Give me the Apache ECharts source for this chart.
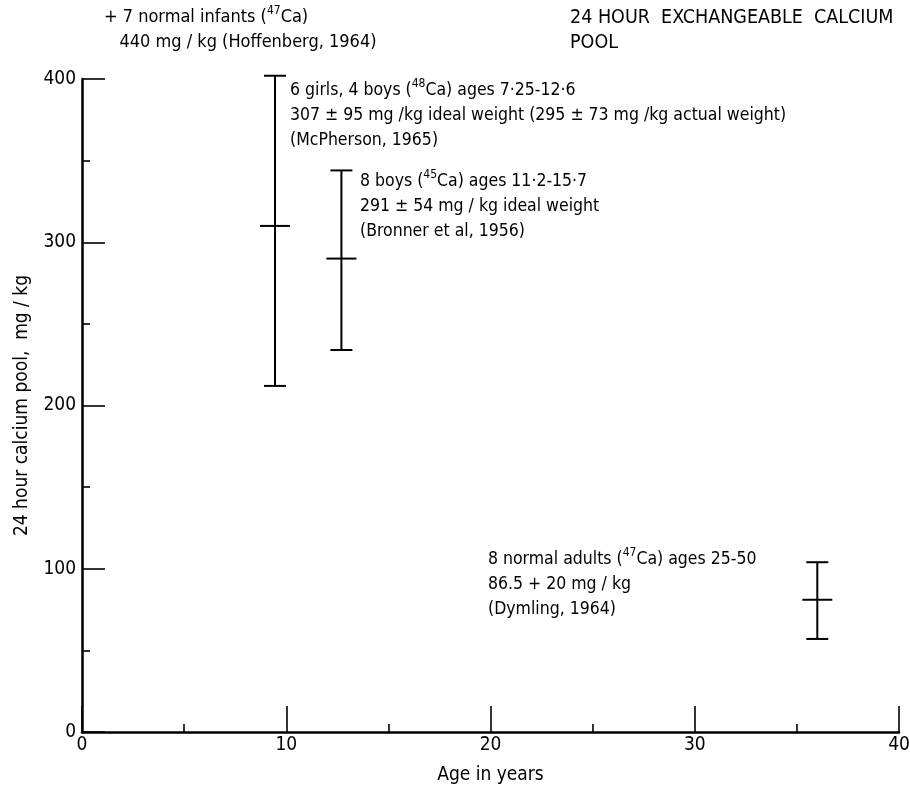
<!DOCTYPE html>
<html>
<head>
<meta charset="utf-8">
<script src="https://cdn.jsdelivr.net/npm/echarts@6/dist/echarts.min.js"></script>
<style>
html,body{margin:0;padding:0;background:#fff;}
#chart{width:910px;height:785px;}
</style>
</head>
<body>
<div id="chart"></div>
<script>
// ---- data ----
const studies = ['McPherson, 1965', 'Bronner et al, 1956', 'Dymling, 1964'];
const ages = [9.45, 12.7, 36];        // x position (years)
const means = [310, 290, 81];          // drawn centre (mg/kg)
const lows = [212, 234, 57];           // lower end of bar
const highs = [402, 344, 104];         // upper end of bar
const xTicks = [0, 10, 20, 30, 40];
const yTicks = [0, 100, 200, 300, 400];

const FONT = "'DejaVu Sans Condensed', 'Liberation Sans Narrow', 'DejaVu Sans', sans-serif";

const data = ages.map((a, i) => [a, means[i], lows[i], highs[i]]);

const chart = echarts.init(document.getElementById('chart'), null, {renderer: 'canvas'});

function renderItem(params, api) {
  const x = api.value(0);
  const c = api.coord([x, api.value(1)]);
  const lo = api.coord([x, api.value(2)]);
  const hi = api.coord([x, api.value(3)]);
  const capW = 11, midW = 15;
  const st = {stroke: '#000', lineWidth: 2};
  return {
    type: 'group',
    children: [
      {type: 'line', shape: {x1: lo[0], y1: lo[1], x2: hi[0], y2: hi[1]}, style: st},
      {type: 'line', shape: {x1: hi[0] - capW, y1: hi[1], x2: hi[0] + capW, y2: hi[1]}, style: st},
      {type: 'line', shape: {x1: lo[0] - capW, y1: lo[1], x2: lo[0] + capW, y2: lo[1]}, style: st},
      {type: 'line', shape: {x1: c[0] - midW, y1: c[1], x2: c[0] + midW, y2: c[1]}, style: st}
    ]
  };
}

function makeRich(size) {
  return {
    n: {fontFamily: FONT, fontSize: size, lineHeight: 25, fill: '#000'},
    s: {fontFamily: FONT, fontSize: Math.round(size * 0.68), lineHeight: 25, verticalAlign: 'top', fill: '#000'}
  };
}
function txt(left, top, text, size) {
  return {
    type: 'text', left: left, top: top,
    style: {text: text, rich: makeRich(size), fontFamily: FONT, fontSize: size, lineHeight: 25, fill: '#000'}
  };
}

const option = {
  backgroundColor: '#fff',
  animation: false,
  grid: {left: 82, right: 11, top: 79, bottom: 53, containLabel: false, outerBoundsMode: 'none'},
  xAxis: {
    type: 'value', min: 0, max: 40, interval: 10,
    name: 'Age in years', nameLocation: 'middle', nameGap: 34,
    nameTextStyle: {fontFamily: FONT, fontSize: 19, color: '#000'},
    axisLine: {show: true, lineStyle: {color: '#000', width: 2.5}},
    axisTick: {show: true, inside: true, length: 26, lineStyle: {color: '#000', width: 1.6}},
    minorTick: {show: true, splitNumber: 2, length: 8, lineStyle: {color: '#000', width: 1.6}},
    axisLabel: {fontFamily: FONT, fontSize: 19, color: '#000', margin: 4,
      formatter: v => xTicks.includes(v) ? String(v) : ''},
    splitLine: {show: false}
  },
  yAxis: {
    type: 'value', min: 0, max: 400, interval: 100,
    name: '24 hour calcium pool,  mg / kg', nameLocation: 'middle', nameGap: 50,
    nameTextStyle: {fontFamily: FONT, fontSize: 19, color: '#000'},
    axisLine: {show: true, lineStyle: {color: '#000', width: 2.5}},
    axisTick: {show: true, inside: true, length: 23, lineStyle: {color: '#000', width: 1.6}},
    minorTick: {show: true, splitNumber: 2, length: 8, lineStyle: {color: '#000', width: 1.6}},
    axisLabel: {fontFamily: FONT, fontSize: 19, color: '#000', margin: 6,
      formatter: v => yTicks.includes(v) ? String(v) : ''},
    splitLine: {show: false}
  },
  series: [{
    type: 'custom',
    name: 'calcium pool',
    renderItem: renderItem,
    encode: {x: 0, y: [1, 2, 3]},
    data: data,
    clip: false
  }],
  graphic: [
    txt(104, 5, '{n|+ 7 normal infants (}{s|47}{n|Ca)}\n{n|   440 mg / kg (Hoffenberg, 1964)}', 18),
    txt(570, 5, '{n|24 HOUR  EXCHANGEABLE  CALCIUM}\n{n|POOL}', 19.5),
    txt(290, 78, '{n|6 girls, 4 boys (}{s|48}{n|Ca) ages 7·25-12·6}\n{n|307 ± 95 mg /kg ideal weight (295 ± 73 mg /kg actual weight)}\n{n|(McPherson, 1965)}', 17.5),
    txt(360, 169, '{n|8 boys (}{s|45}{n|Ca) ages 11·2-15·7}\n{n|291 ± 54 mg / kg ideal weight}\n{n|(Bronner et al, 1956)}', 17.5),
    txt(488, 547, '{n|8 normal adults (}{s|47}{n|Ca) ages 25-50}\n{n|86.5 + 20 mg / kg}\n{n|(Dymling, 1964)}', 17.5)
  ]
};
chart.setOption(option);
</script>
</body>
</html>
